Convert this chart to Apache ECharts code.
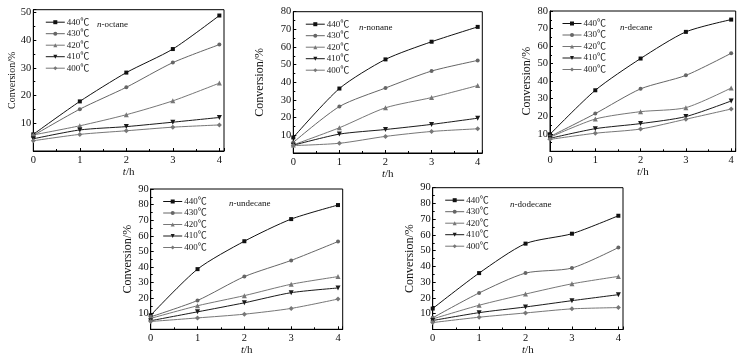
<!DOCTYPE html>
<html lang="en">
<head>
    <meta charset="UTF-8">
    <title>Conversion</title>
    <script src="https://cdn.jsdelivr.net/npm/echarts@6/dist/echarts.min.js"></script>
</head>
<body style="margin:0;background:#fff;">
    <div id="main" style="width: 749px; height: 358px;"></div>
    <script>
        // 反应时间 t/h
        const times = [0, 1, 2, 3, 4];
        const temps = ['440℃', '430℃', '420℃', '410℃', '400℃'];

        // 每行对应一个温度 (440 → 400)
        const octane = [
            [6.0, 17.9, 28.3, 36.8, 48.9],
            [5.6, 15.1, 23.0, 31.9, 38.4],
            [5.8, 9.1, 13.1, 18.1, 24.5],
            [4.4, 7.6, 8.8, 10.4, 12.1],
            [3.7, 6.0, 7.3, 8.6, 9.4]
        ];
        const nonane = [
            [8.8, 36.5, 53.0, 63.0, 71.4],
            [6.0, 26.3, 36.8, 46.4, 52.4],
            [4.6, 14.3, 25.6, 31.4, 38.2],
            [4.4, 10.7, 13.3, 16.2, 19.7],
            [4.2, 5.5, 9.4, 12.2, 13.7]
        ];
        const decane = [
            [9.7, 34.8, 52.9, 68.1, 75.1],
            [8.4, 21.5, 35.6, 43.3, 55.9],
            [8.0, 18.4, 22.6, 24.9, 36.1],
            [7.4, 12.9, 15.8, 19.8, 28.7],
            [6.8, 10.3, 12.7, 18.3, 24.1]
        ];
        const undecane = [
            [9.0, 38.6, 56.5, 70.7, 79.7],
            [8.0, 18.5, 33.8, 44.2, 56.3],
            [7.0, 15.1, 21.6, 28.9, 33.8],
            [5.5, 11.2, 17.0, 23.5, 26.5],
            [5.0, 7.3, 9.7, 13.4, 19.4]
        ];
        const dodecane = [
            [13.3, 35.8, 54.5, 60.8, 72.2],
            [7.4, 23.2, 35.8, 39.0, 52.0],
            [6.7, 15.4, 22.5, 29.0, 33.7],
            [5.7, 10.7, 14.3, 18.3, 22.1],
            [4.4, 7.8, 10.5, 13.1, 13.9]
        ];

        const serif = '"Liberation Serif", "Times New Roman", "Noto Sans CJK SC", serif';

        // 系列样式
        const styles = [
            { color: '#111', symbol: 'rect', size: 4, rotate: 0 },
            { color: '#666', symbol: 'circle', size: 4, rotate: 0 },
            { color: '#777', symbol: 'triangle', size: 5, rotate: 0 },
            { color: '#1a1a1a', symbol: 'triangle', size: 5, rotate: 180 },
            { color: '#777', symbol: 'diamond', size: 5, rotate: 0 }
        ];

        // 子图布局
        const panels = [
            { label: 'octane', data: octane, left: 33.3, top: 9.7, width: 190.7, height: 141.3, ymax: 51, nameSize: 10, nameGap: 15, labelX: 92, labelY: 15 },
            { label: 'nonane', data: nonane, left: 293.3, top: 11.7, width: 189, height: 141.3, ymax: 80, nameSize: 12, nameGap: 27, labelX: 354, labelY: 18 },
            { label: 'decane', data: decane, left: 550, top: 11, width: 185.7, height: 140.3, ymax: 80, nameSize: 12, nameGap: 17, labelX: 615, labelY: 18 },
            { label: 'undecane', data: undecane, left: 150.7, top: 189, width: 192, height: 140.3, ymax: 90, nameSize: 12, nameGap: 15, labelX: 224, labelY: 194 },
            { label: 'dodecane', data: dodecane, left: 432.7, top: 187.7, width: 190.3, height: 141.8, ymax: 90, nameSize: 12, nameGap: 15, labelX: 505, labelY: 195 }
        ];

        var myChart = echarts.init(document.getElementById('main'));

        const grid = [], xAxis = [], yAxis = [], series = [], legend = [], title = [];

        panels.forEach((p, i) => {
            grid.push({
                left: p.left, top: p.top, width: p.width, height: p.height,
                show: true, borderColor: '#000', borderWidth: 1, backgroundColor: 'transparent'
            });
            xAxis.push({
                type: 'value', gridIndex: i, min: 0, max: 4.1, interval: 1,
                name: '{i|t}/h', nameLocation: 'middle', nameGap: 12,
                nameTextStyle: { fontFamily: serif, fontSize: 11, color: '#111', rich: { i: { fontStyle: 'italic', fontFamily: serif, fontSize: 11 } } },
                axisLine: { lineStyle: { color: '#000', width: 1 } },
                axisTick: { inside: true, length: 3, lineStyle: { color: '#000' } },
                minorTick: { show: true, splitNumber: 2, length: 2, lineStyle: { color: '#000' } },
                splitLine: { show: false },
                axisLabel: {
                    fontFamily: serif, fontSize: 10.5, color: '#111', margin: 4,
                    formatter: v => (Math.abs(v - Math.round(v)) < 1e-6 ? String(Math.round(v)) : '')
                }
            });
            yAxis.push({
                type: 'value', gridIndex: i, min: 0, max: p.ymax, interval: 10,
                name: 'Conversion/%', nameLocation: 'middle', nameGap: p.nameGap,
                nameTextStyle: { fontFamily: serif, fontSize: p.nameSize, color: '#111' },
                axisLine: { lineStyle: { color: '#000', width: 1 } },
                axisTick: { inside: true, length: 3, lineStyle: { color: '#000' } },
                minorTick: { show: true, splitNumber: 2, length: 2, lineStyle: { color: '#000' } },
                splitLine: { show: false },
                axisLabel: {
                    fontFamily: serif, fontSize: 10.5, color: '#111', margin: 2,
                    formatter: v => (v > 0 && v % 10 === 0 ? String(v) : '')
                }
            });
            p.data.forEach((row, k) => {
                const s = styles[k];
                series.push({
                    type: 'line', name: temps[k], xAxisIndex: i, yAxisIndex: i,
                    data: times.map((t, j) => [t, row[j]]),
                    smooth: 0.25,
                    symbol: s.symbol, symbolSize: s.size, symbolRotate: s.rotate,
                    lineStyle: { color: s.color, width: 1 },
                    itemStyle: { color: s.color },
                    emphasis: { disabled: true },
                    animation: false
                });
            });
            legend.push({
                orient: 'vertical', left: p.left + 7, top: p.top + 3,
                itemWidth: 19, itemHeight: 5, itemGap: 2.5,
                data: temps,
                lineStyle: { width: 1 },
                textStyle: { fontFamily: serif, fontSize: 9, color: '#222', padding: [0, 0, 0, -3] },
                selectedMode: false
            });
            title.push({
                text: '{i|n}-' + p.label, left: p.labelX, top: p.labelY,
                textStyle: { fontFamily: serif, fontSize: 9, fontWeight: 'normal', color: '#111',
                    rich: { i: { fontStyle: 'italic', fontFamily: serif, fontSize: 9 } } }
            });
        });

        let option = {
            backgroundColor: '#fff',
            animation: false,
            title: title,
            legend: legend,
            grid: grid,
            xAxis: xAxis,
            yAxis: yAxis,
            series: series
        };
        myChart.setOption(option);
    </script>
</body>
</html>
